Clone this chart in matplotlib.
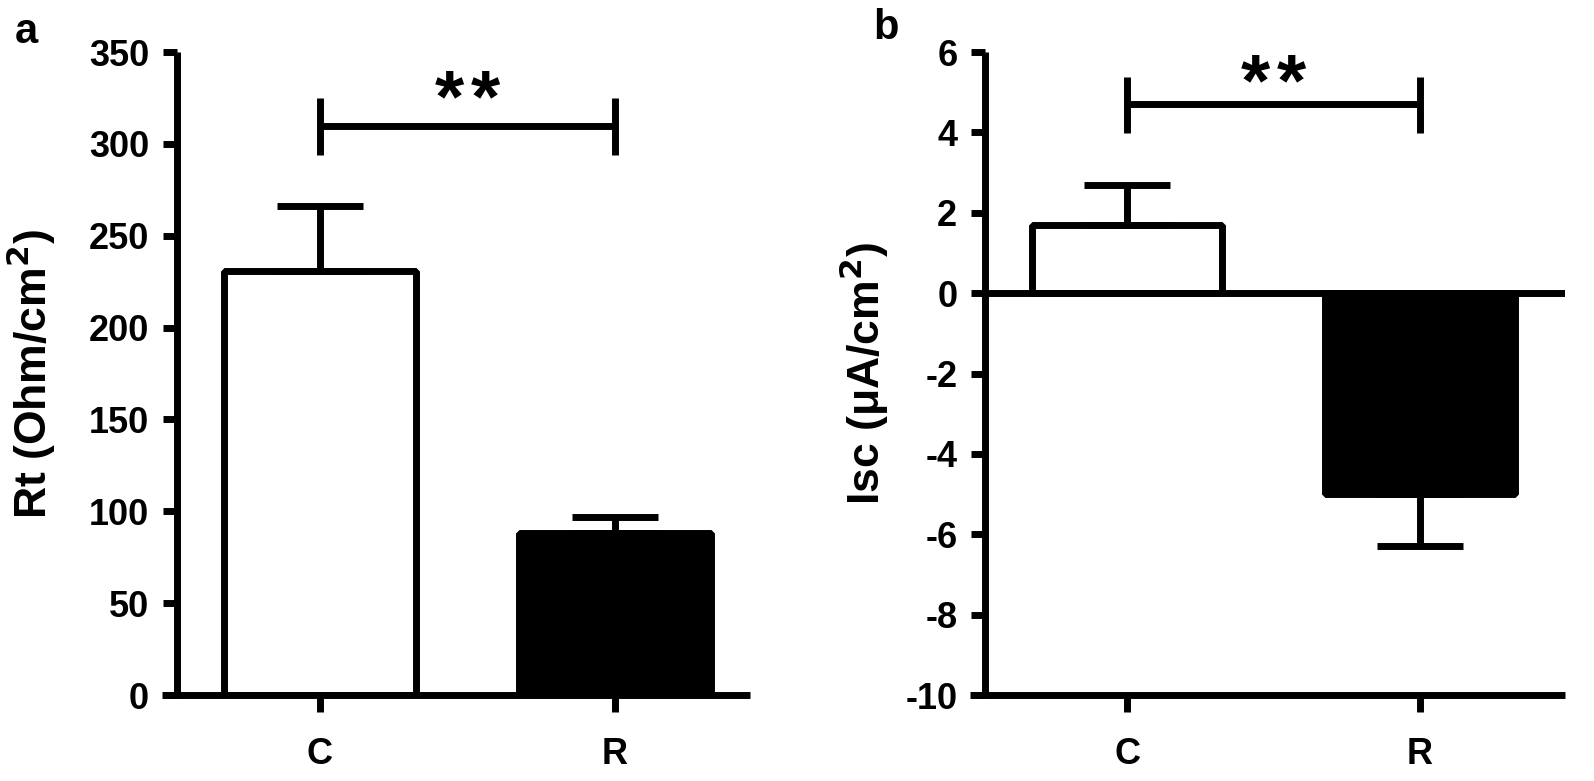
import matplotlib
matplotlib.use("Agg")
import matplotlib.pyplot as plt

plt.rcParams['font.family'] = ['Liberation Sans', 'DejaVu Sans']

groups = ["C", "R"]
rt_mean = [231, 88]
rt_err = [35, 9]
isc_mean = [1.7, -5.0]
isc_err_up = [1.0, 0.0]
isc_err_down = [0.0, 1.3]
rt_ticks = [0, 50, 100, 150, 200, 250, 300, 350]
isc_ticks = [-10, -8, -6, -4, -2, 0, 2, 4, 6]
rt_sig = [310, 294, 325]
isc_sig = [4.7, 3.98, 5.37]

fig = plt.figure(figsize=(15.94, 7.81), dpi=100)
axA = fig.add_axes([0.111, 0.110, 0.3595, 0.8234])
axB = fig.add_axes([0.618, 0.110, 0.3638, 0.8234])

LW = 5
FS = 26
colors = ["white", "black"]
x = [0, 1]

def style(ax, ylim, yticks, xlim):
    ax.set_xlim(*xlim)
    ax.set_ylim(*ylim)
    ax.set_yticks(yticks)
    ax.set_yticklabels([str(t) for t in yticks], fontsize=FS, fontweight='bold')
    ax.set_xticks(x)
    ax.set_xticklabels(groups, fontsize=FS, fontweight='bold')
    for s in ['top', 'right']:
        ax.spines[s].set_visible(False)
    for s in ['left', 'bottom']:
        ax.spines[s].set_linewidth(LW)
        ax.spines[s].set_capstyle('butt')
    ax.spines['bottom'].set_bounds(xlim[0] - 0.05, xlim[1])
    ax.tick_params(axis='y', length=10, width=LW, pad=10)
    ax.tick_params(axis='x', length=12, width=LW, pad=18)

def bars(ax, means, yerr):
    bc = ax.bar(x, means, width=0.65, color=colors, edgecolor='black', linewidth=LW, zorder=2)
    for p in bc:
        p.set_joinstyle('bevel')
    ax.errorbar(x, means, yerr=yerr, fmt='none', ecolor='black',
                elinewidth=LW, capsize=31, capthick=LW, zorder=3)

def bracket(ax, sig, ytext):
    ax.plot([0, 1], [sig[0], sig[0]], color='black', lw=LW, solid_capstyle='butt')
    ax.plot([0, 0], [sig[1], sig[2]], color='black', lw=LW, solid_capstyle='butt')
    ax.plot([1, 1], [sig[1], sig[2]], color='black', lw=LW, solid_capstyle='butt')
    for dx in (-0.061, 0.061):
        ax.text(0.5 + dx, ytext, "*", ha='center', va='bottom', fontsize=54, fontweight='bold')

# Panel a
bars(axA, rt_mean, [[0, 0], rt_err])
bracket(axA, rt_sig, 304)
style(axA, (0, 350), rt_ticks, (-0.485, 1.458))
axA.set_ylabel("Rt (Ohm/cm$\\mathbf{^2}$)", fontsize=32, fontweight='bold', labelpad=22)

# Panel b
bars(axB, isc_mean, [isc_err_down, isc_err_up])
axB.axhline(0, color='black', lw=LW, zorder=4)
bracket(axB, isc_sig, 4.30)
style(axB, (-10, 6), isc_ticks, (-0.485, 1.495))
axB.set_ylabel("Isc (\u03bcA/cm$\\mathbf{^2}$)", fontsize=32, fontweight='bold', labelpad=10)

fig.text(0.009, 0.985, "a", fontsize=30, fontweight='bold', va='top', ha='left')
fig.text(0.548, 0.99, "b", fontsize=30, fontweight='bold', va='top', ha='left')

fig.savefig("out.png", dpi=100)
